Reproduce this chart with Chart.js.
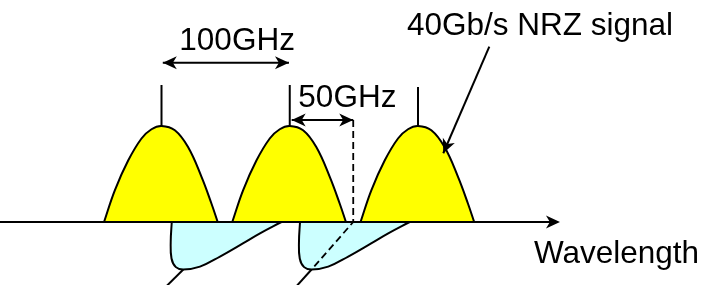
<!DOCTYPE html>
<html><head><meta charset="utf-8">
<script src="https://cdn.jsdelivr.net/npm/chart.js@4.4.1/dist/chart.umd.min.js"></script>
<style>html,body{margin:0;padding:0;background:#fff;overflow:hidden}canvas{display:block}</style>
</head><body>
<canvas id="c" width="715" height="285"></canvas>
<script>
// ---- data (x in GHz relative to first channel, y = normalised power) ----
const channelCenters = [0, 100, 200];
const nrzOffsets = [-44.8, -36.4, -26, -15.6, -7.8, 0, 10.4, 20.7, 31.2, 39, 43.8];
const nrzPower   = [0, 0.33, 0.64, 0.87, 0.966, 1, 0.955, 0.78, 0.47, 0.19, 0];
const lobeCenters = [0, 100];
const lobeOffsets = [8.0, 7.2, 7.8, 11.2, 17, 30, 45.6, 63.8, 76.8, 93.5];
const lobeValues  = [0, -0.2, -0.38, -0.47, -0.495, -0.465, -0.36, -0.22, -0.118, 0];
const leaderX = [[17, 3], [117, 104.5]];
const leaderY = [[-0.495, -0.68], [-0.495, -0.68]];
const dashedX = [149.5, 149.5, 117];
const dashedY = [1.0625, 0, -0.495];
const markerTop = [1.427, 1.427, 1.406];
const spacingLabels = ['100GHz', '50GHz'];
const spacingFrom  = [1, 101.5];
const spacingTo    = [99.4, 149.5];
const spacingLevel = [1.66, 1.0625];
const signalLabel = '40Gb/s NRZ signal';
const signalPointer = [[255.6, 1.826], [219.7, 0.716]];
const axisLabel = 'Wavelength';
const axisRange = [-130, 310.7];

// ---- layout (positions of texts in data units) ----
const layout = {
  spacingText: [[13.9, 1.792], [106.7, 1.195]],
  signalText: [191.4, 1.948],
  axisText: [290.4, -0.43],
  font: '31.5px "Liberation Sans", Arial, sans-serif'
};

const pts = (xs, ys) => xs.map((x, i) => ({x, y: ys[i]}));
const line = (data, extra) => Object.assign({data, showLine: true, borderColor: '#000', borderWidth: 2, pointRadius: 0, fill: false, order: 0}, extra || {});
const datasets = [];
channelCenters.forEach((c, k) => {
  datasets.push(line(pts(nrzOffsets.map(o => c + o), nrzPower), {tension: 0.4, fill: 'origin', backgroundColor: '#FFFF00', order: 10}));
  datasets.push(line(pts([c, c], [1, markerTop[k]])));
});
lobeCenters.forEach((c, k) => {
  datasets.push(line(pts(lobeOffsets.map(o => c + o), lobeValues), {tension: 0.4, fill: 'origin', backgroundColor: '#CCFFFF', order: 10}));
  datasets.push(line(pts(leaderX[k], leaderY[k])));
});
datasets.push(line(pts(dashedX, dashedY), {borderWidth: 1.8, borderDash: [7, 4]}));
spacingLabels.forEach((l, k) => {
  datasets.push(line(pts([spacingFrom[k], spacingTo[k]], [spacingLevel[k], spacingLevel[k]])));
});
datasets.push(line(pts(signalPointer.map(p => p[0]), signalPointer.map(p => p[1]))));

function head(ctx, tx, ty, fx, fy) {
  const a = Math.atan2(ty - fy, tx - fx), L = 14, W = 6.5;
  ctx.save(); ctx.translate(tx, ty); ctx.rotate(a);
  ctx.beginPath(); ctx.moveTo(0, 0); ctx.lineTo(-L, -W); ctx.lineTo(-L * 0.72, 0); ctx.lineTo(-L, W); ctx.closePath();
  ctx.fillStyle = '#000'; ctx.fill(); ctx.restore();
}

const deco = {
  id: 'deco',
  afterDatasetsDraw(chart) {
    const ctx = chart.ctx, X = chart.scales.x, Y = chart.scales.y;
    const px = v => X.getPixelForValue(v), py = v => Y.getPixelForValue(v);
    ctx.save();
    ctx.strokeStyle = '#000'; ctx.lineWidth = 2;
    ctx.beginPath(); ctx.moveTo(px(axisRange[0]), py(0)); ctx.lineTo(px(axisRange[1]) - 8, py(0)); ctx.stroke();
    head(ctx, px(axisRange[1]), py(0), px(axisRange[0]), py(0));
    spacingLabels.forEach((l, k) => {
      const y = py(spacingLevel[k]);
      head(ctx, px(spacingTo[k]), y, px(spacingFrom[k]), y);
      head(ctx, px(spacingFrom[k]), y, px(spacingTo[k]), y);
    });
    head(ctx, px(signalPointer[1][0]), py(signalPointer[1][1]), px(signalPointer[0][0]), py(signalPointer[0][1]));
    ctx.fillStyle = '#000'; ctx.font = layout.font; ctx.textAlign = 'left'; ctx.textBaseline = 'alphabetic';
    spacingLabels.forEach((l, k) => ctx.fillText(l, px(layout.spacingText[k][0]), py(layout.spacingText[k][1])));
    ctx.fillText(signalLabel, px(layout.signalText[0]), py(layout.signalText[1]));
    ctx.fillText(axisLabel, px(layout.axisText[0]), py(layout.axisText[1]));
    ctx.restore();
  }
};

new Chart(document.getElementById('c'), {
  type: 'scatter',
  data: {datasets},
  options: {
    responsive: false, animation: false, events: [],
    layout: {padding: 0},
    plugins: {legend: {display: false}, tooltip: {enabled: false}},
    scales: {
      x: {type: 'linear', display: false, min: -125.93, max: 431.58},
      y: {type: 'linear', display: false, min: -0.65625, max: 2.3125}
    }
  },
  plugins: [deco]
});
</script>
</body></html>
